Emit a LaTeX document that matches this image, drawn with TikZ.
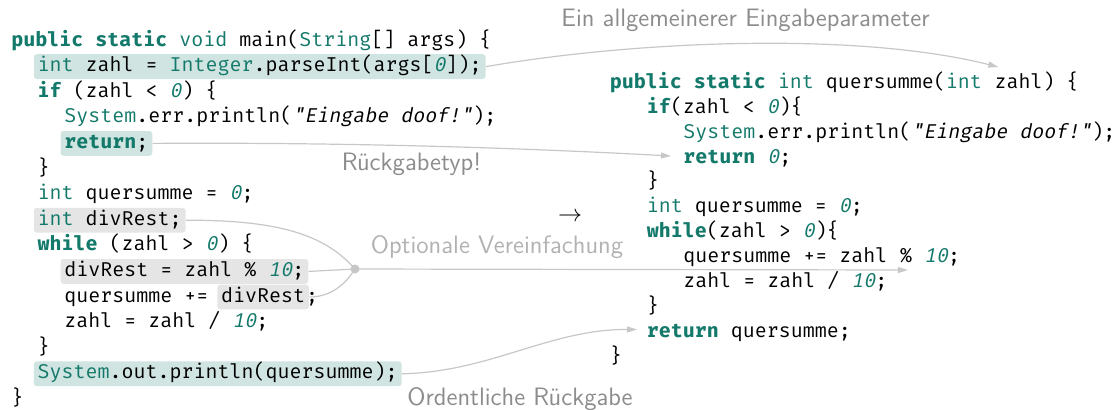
\documentclass[tikz,border=0pt]{standalone}
\usepackage{fontspec}
\usetikzlibrary{arrows.meta,fit,backgrounds}

% monospaced font for the Java listings
\IfFontExistsTF{Fira Mono}
  {\newfontfamily\codefont{Fira Mono}[BoldFont={Fira Mono Bold},ItalicFont={Fira Mono},ItalicFeatures={FakeSlant=0.2}]}
  {\newfontfamily\codefont{DejaVu Sans Mono}}

\definecolor{codeteal}{HTML}{13796A}
\colorlet{tealhl}{codeteal!20}
\colorlet{grayhl}{black!10}
\colorlet{linegray}{black!22}
\colorlet{labelgray}{black!45}
\colorlet{lightlabel}{black!30}

% syntax colouring
\newcommand\kw[1]{{\bfseries\color{codeteal}#1}}
\newcommand\ty[1]{{\color{codeteal}#1}}
\newcommand\nm[1]{{\itshape\color{codeteal}#1}}
\newcommand\jstr[1]{{\itshape #1}}

\begin{document}
\begin{tikzpicture}[x=0.5pt, y=-0.5pt,
  code/.style={anchor=base west, inner sep=0pt, text height=8.25pt, text depth=3.25pt,
               font=\codefont\fontsize{10}{12}\selectfont},
  hlbox/.style={rounded corners=1.5pt, inner xsep=1.75pt, inner ysep=0.25pt},
  hlteal/.style={hlbox, fill=tealhl},
  hlgray/.style={hlbox, fill=grayhl},
  conn/.style={draw=linegray, line width=0.6pt},
  arr/.style={conn, -{Triangle[length=5pt,width=3pt]}},
  note/.style={anchor=base, inner sep=0pt, text=labelgray,
               font=\sffamily\fontsize{12.6}{15}\selectfont},
  junction/.style={circle, fill=linegray, inner sep=0pt, minimum size=4.5pt}]

\useasboundingbox (0,0) rectangle (1118,409);

% ---------- original main method ----------
\node[code] (l1)  at (11,46)      {\kw{public} \kw{static} \ty{void} main(\ty{String}[] args) \{};
\node[code] (l2)  at (37.3,71.6)  {\ty{int} zahl = \ty{Integer}.parseInt(args[\nm{0}]);};
\node[code] (l3)  at (37.3,97.2)  {\kw{if} (zahl < \nm{0}) \{};
\node[code] (l4)  at (64,122.8)   {\ty{System}.err.println(\jstr{"Eingabe doof!"});};
\node[code] (l5)  at (64,148.4)   {\kw{return};};
\node[code] (l6)  at (37.3,174)   {\}};
\node[code] (l7)  at (37.3,199.6) {\ty{int} quersumme = \nm{0};};
\node[code] (l8)  at (37.3,225.2) {\ty{int} divRest;};
\node[code] (l9)  at (37.3,250.8) {\kw{while} (zahl > \nm{0}) \{};
\node[code] (l10) at (64,276.4)   {divRest = zahl \% \nm{10};};
\node[code] (l11a) at (64,302)    {quersumme +=};
\node[code] (l11b) at ([xshift=6pt]l11a.base east) {divRest};
\node[code] (l11c) at (l11b.base east) {;};
\node[code] (l12) at (64,327.6)   {zahl = zahl / \nm{10};};
\node[code] (l13) at (37.3,353.2) {\}};
\node[code] (l14) at (37.3,378.8) {\ty{System}.out.println(quersumme);};
\node[code] (l15) at (11,404.4)   {\}};

% ---------- extracted method ----------
\node[code] (r1a) at (609.5,88.3) {\kw{public} \kw{static} \ty{int} quersumme(\ty{int}};
\node[code] (r1b) at ([xshift=6pt]r1a.base east) {zahl) \{};
\node[code] (r2)  at (646.5,113.2) {\kw{if}(zahl < \nm{0})\{};
\node[code] (r3)  at (683,138.1)   {\ty{System}.err.println(\jstr{"Eingabe doof!"});};
\node[code] (r4)  at (683,163)     {\kw{return} \nm{0};};
\node[code] (r5)  at (646.5,187.9) {\}};
\node[code] (r6)  at (646.5,212.8) {\ty{int} quersumme = \nm{0};};
\node[code] (r7)  at (646.5,237.7) {\kw{while}(zahl > \nm{0})\{};
\node[code] (r8a) at (683,262.6)   {quersumme += zahl};
\node[code] (r8b) at ([xshift=6pt]r8a.base east) {\% \nm{10};};
\node[code] (r9)  at (683,287.5)   {zahl = zahl / \nm{10};};
\node[code] (r10) at (646.5,312.4) {\}};
\node[code] (r11) at (646.5,337.3) {\kw{return} quersumme;};
\node[code] (r12) at (609.5,362.2) {\}};

% ---------- annotations ----------
\node[note] (labA) at (745.5,26) {Ein allgemeinerer Eingabeparameter};
\node[note] (labB) at (411.5,170) {Rückgabetyp!};
\node[note, text=lightlabel] (labC) at (497,253) {Optionale Vereinfachung};
\node[note] (labD) at (520,405) {Ordentliche Rückgabe};
\node[font=\fontsize{13}{15}\selectfont, inner sep=0pt] (becomes) at (570,217) {$\rightarrow$};
\node[junction] (dot) at (355,269) {};

% arrow targets in the extracted method
\coordinate (tipA) at ([shift={(2pt,2.2pt)}]r1b.north west);
\coordinate (tipB) at ([shift={(-6pt,3.5pt)}]r4.base west);
\coordinate (tipC) at ([shift={(4pt,-3.7pt)}]r8b.base west);
\coordinate (tipD) at ([shift={(-4.75pt,3.9pt)}]r11.base west);

\begin{scope}[on background layer]
  % highlighted fragments
  \node[hlteal, fit=(l2)]   (l2box)  {};
  \node[hlteal, fit=(l5)]   (l5box)  {};
  \node[hlgray, fit=(l8)]   (l8box)  {};
  \node[hlgray, fit=(l10)]  (l10box) {};
  \node[hlgray, fit=(l11b)] (l11box) {};
  \node[hlteal, fit=(l14)]  (l14box) {};

  % connectors
  \draw[arr] (l2box.east) .. controls (640,40) and (860,32) .. (tipA);
  \draw[arr] (l5box.east) .. controls (380,142) and (560,150) .. (tipB);
  \draw[conn] (l8box.east) .. controls (280,220) and (325,235) .. (dot.center);
  \draw[conn] (l10box.east) -- (dot.center);
  \draw[conn] (l11box.east) .. controls (330,297) and (345,285) .. (dot.center);
  \draw[arr] (dot.center) -- (tipC);
  \draw[arr] (l14box.east) .. controls (490,372) and (550,329) .. (tipD);
\end{scope}
\end{tikzpicture}
\end{document}
